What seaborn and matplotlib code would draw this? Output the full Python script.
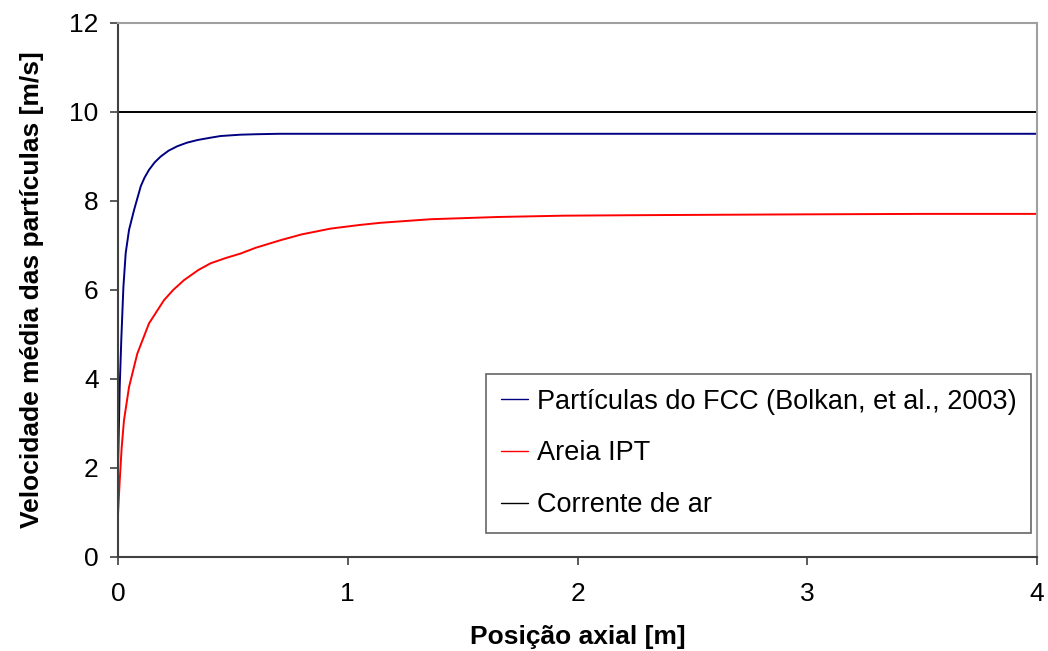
import pandas as pd
import matplotlib.pyplot as plt
import seaborn as sns

# valores
pos_fcc = [0, 0.0074, 0.0148, 0.0235, 0.0335, 0.048, 0.070, 0.099, 0.115, 0.135, 0.16, 0.186,
           0.22, 0.258, 0.3, 0.346, 0.4, 0.447, 0.534, 0.6, 0.7, 1.0, 1.5, 2.0, 3.0, 4.0]
vel_fcc = [1.95, 3.82, 4.95, 6.07, 6.83, 7.35, 7.80, 8.33, 8.52, 8.70, 8.87, 9.00,
           9.13, 9.23, 9.31, 9.37, 9.42, 9.46, 9.49, 9.50, 9.51, 9.51, 9.51, 9.51, 9.51, 9.51]

pos_areia = [0, 0.0074, 0.016, 0.026, 0.048, 0.084, 0.135, 0.20, 0.24, 0.287, 0.35, 0.403,
             0.47, 0.534, 0.6, 0.708, 0.8, 0.926, 1.05, 1.143, 1.36, 1.651, 1.94, 2.23,
             2.6, 3.0, 3.5, 4.0]
vel_areia = [0.96, 1.71, 2.46, 3.07, 3.82, 4.57, 5.25, 5.77, 6.00, 6.22, 6.45, 6.60,
             6.72, 6.82, 6.95, 7.12, 7.25, 7.38, 7.46, 7.51, 7.59, 7.64, 7.67, 7.68,
             7.69, 7.70, 7.71, 7.71]

pos_ar = [0, 4]
vel_ar = [10, 10]

series = [
    ("Partículas do FCC (Bolkan, et al., 2003)", pos_fcc, vel_fcc, "#000080"),
    ("Areia IPT", pos_areia, vel_areia, "#ff0000"),
    ("Corrente de ar", pos_ar, vel_ar, "#000000"),
]

sns.set_style("white")
plt.rcParams['font.family'] = ['Liberation Sans', 'DejaVu Sans']
plt.rcParams['text.color'] = 'black'
plt.rcParams['axes.labelcolor'] = 'black'
plt.rcParams['xtick.color'] = 'black'
plt.rcParams['ytick.color'] = 'black'

fig, ax = plt.subplots(figsize=(10.48, 6.51), dpi=100)
fig.subplots_adjust(left=0.1126, right=0.9895, top=0.9647, bottom=0.1444)

for nome, x, y, cor in series:
    sns.lineplot(x=x, y=y, ax=ax, color=cor, lw=1.4, sort=False, label=nome)

ax.set_xlim(0, 4)
ax.set_ylim(0, 12)
ax.set_xticks([0, 1, 2, 3, 4])
ax.set_yticks(range(0, 13, 2))
ax.tick_params(direction='out', length=6, width=1.2, color='#404040', labelsize=19,
               labelcolor='black', bottom=True, left=True)
ax.tick_params(axis='x', pad=12)
ax.tick_params(axis='y', pad=8)

for lado in ['left', 'bottom']:
    ax.spines[lado].set_color('#404040')
    ax.spines[lado].set_linewidth(1.5)
for lado in ['top', 'right']:
    ax.spines[lado].set_color('#a0a0a0')
    ax.spines[lado].set_linewidth(1.5)

ax.set_xlabel('Posição axial [m]', fontsize=19, fontweight='bold', labelpad=14)
ax.set_ylabel('Velocidade média das partículas [m/s]', fontsize=19, fontweight='bold', labelpad=18)

leg = ax.legend(loc='lower right', bbox_to_anchor=(0.9935, 0.045), fontsize=19.5, frameon=True,
                fancybox=False, handlelength=1.0, handletextpad=0.3, labelspacing=0.95,
                borderpad=0.55, borderaxespad=0)
leg.get_frame().set_edgecolor('#404040')
leg.get_frame().set_linewidth(1.2)
for linha in leg.get_lines():
    linha.set_linewidth(1.0)

fig.savefig('out.png', dpi=100)
